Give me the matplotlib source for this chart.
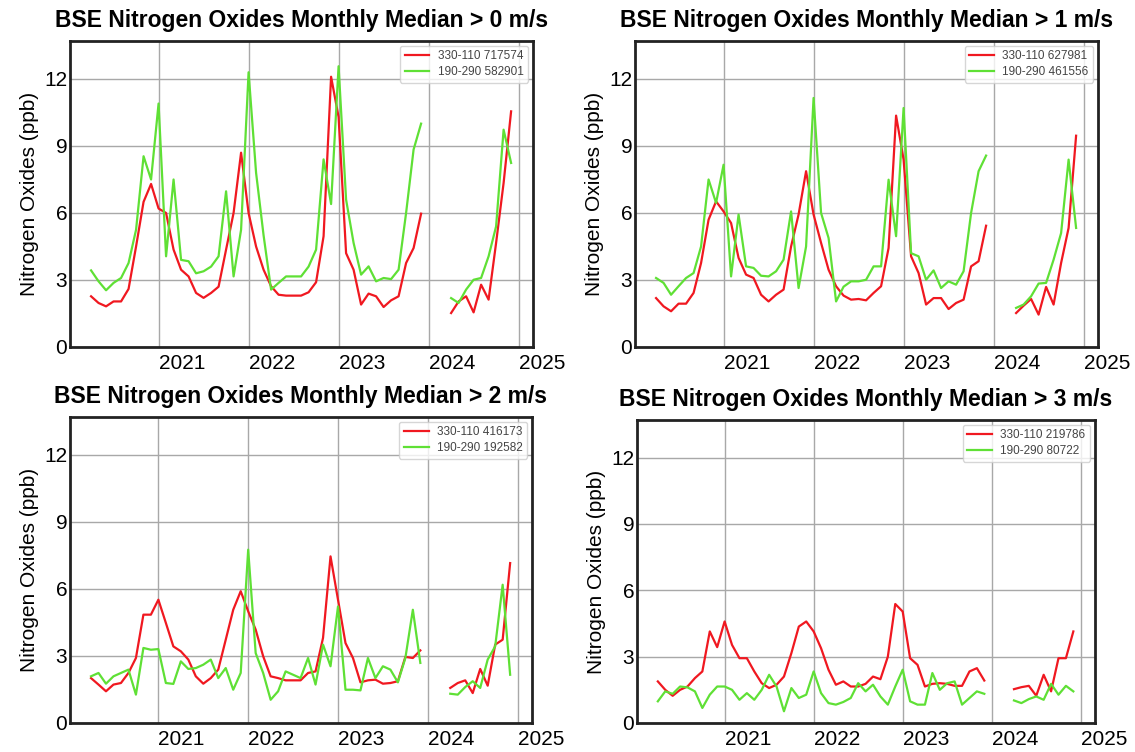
import numpy as np
import pandas as pd
import matplotlib
matplotlib.use("Agg")
import matplotlib.pyplot as plt

plt.rcParams['font.family'] = ['Liberation Sans', 'DejaVu Sans']

# Monthly periods: Apr 2020 .. Dec 2024 (Jan-Mar 2024 missing)
months = pd.date_range('2020-04-01', '2024-12-01', freq='MS')
N = np.nan

titles = ["BSE Nitrogen Oxides Monthly Median > 0 m/s",
          "BSE Nitrogen Oxides Monthly Median > 1 m/s",
          "BSE Nitrogen Oxides Monthly Median > 2 m/s",
          "BSE Nitrogen Oxides Monthly Median > 3 m/s"]

labels_red = ["330-110 717574", "330-110 627981", "330-110 416173", "330-110 219786"]
labels_green = ["190-290 582901", "190-290 461556", "190-290 192582", "190-290 80722"]

red_0 = [2.27, 1.97, 1.82, 2.04, 2.04, 2.6, 4.5, 6.5, 7.3, 6.2, 6.0, 4.36, 3.46, 3.16, 2.42,
         2.2, 2.42, 2.7, 4.36, 6.0, 8.7, 6.0, 4.5, 3.46, 2.72, 2.34, 2.3, 2.3, 2.3,
         2.45, 2.9, 4.96, 12.1, 10.3, 4.2, 3.46, 1.9, 2.39, 2.27, 1.79, 2.09, 2.27, 3.76, 4.43, 5.97,
         N, N, N,
         1.52, 2.04, 2.27, 1.55, 2.79, 2.12, 4.66, 7.34, 10.55]
green_0 = [3.43, 2.94, 2.54, 2.87, 3.09, 3.76, 5.25, 8.54, 7.5, 10.9, 4.06, 7.5, 3.9, 3.84, 3.3,
           3.39, 3.6, 4.06, 6.97, 3.16, 5.25, 12.3, 7.8, 5.0, 2.57, 2.87, 3.16, 3.16, 3.16,
           3.6, 4.36, 8.4, 6.4, 12.57, 6.6, 4.66, 3.24, 3.61, 2.94, 3.09, 3.04, 3.46, 6.0, 8.84, 10.0,
           N, N, N,
           2.19, 1.97, 2.57, 3.01, 3.09, 4.06, 5.4, 9.73, 8.24]

red_1 = [2.19, 1.82, 1.6, 1.94, 1.94, 2.42, 3.76, 5.7, 6.52, 6.07, 5.55, 3.99, 3.24, 3.09, 2.34,
         2.04, 2.34, 2.57, 4.5, 5.93, 7.87, 5.93, 4.66, 3.46, 2.72, 2.3,
         2.12, 2.15, 2.09, 2.42, 2.72, 4.43, 10.36, 8.39, 4.06, 3.31, 1.9, 2.19, 2.19, 1.7, 1.97,
         2.12, 3.61, 3.84, 5.43,
         N, N, N,
         1.52, 1.85, 2.15, 1.45, 2.69, 1.9, 3.76, 5.33, 9.46]
green_1 = [3.09, 2.87, 2.34, 2.72, 3.09, 3.31, 4.5, 7.5, 6.45, 8.16, 3.16, 5.93, 3.61, 3.54, 3.19,
           3.16, 3.39, 3.91, 6.07, 2.64, 4.5, 11.15, 6.0, 4.88, 2.04,
           2.7, 2.94, 2.94, 3.01, 3.61, 3.61, 7.49, 4.96, 10.7, 4.2, 4.06, 3.01, 3.43, 2.64, 2.94,
           2.79, 3.39, 6.0, 7.87, 8.57,
           N, N, N,
           1.75, 1.9, 2.27, 2.84, 2.87, 3.91, 5.1, 8.39, 5.33]

red_2 = [2.01, 1.72, 1.42, 1.72, 1.79, 2.24, 2.91, 4.85, 4.85, 5.52, 4.48, 3.43, 3.21, 2.84, 2.09,
         1.76, 2.01, 2.39, 3.73, 5.07, 5.9, 5.0, 4.18, 2.99, 2.09, 2.01, 1.91, 1.91, 1.91,
         2.24, 2.31, 3.81, 7.46, 5.52, 3.58, 2.91, 1.82, 1.91, 1.94, 1.76, 1.79, 1.87, 2.96, 2.91, 3.25,
         N, N, N,
         1.57, 1.79, 1.91, 1.34, 2.42, 1.67, 3.51, 3.73, 7.16]
green_2 = [2.09, 2.24, 1.76, 2.09, 2.24, 2.39, 1.27, 3.36, 3.28, 3.31, 1.79, 1.75, 2.76, 2.42, 2.46,
           2.61, 2.84, 2.01, 2.46, 1.49, 2.24, 7.76, 3.13, 2.24, 1.04, 1.42, 2.31, 2.16, 2.01,
           2.91, 1.72, 3.51, 2.54, 5.22, 1.49, 1.49, 1.46, 2.91, 2.01, 2.54, 2.39, 1.82, 2.91, 5.07, 2.69,
           N, N, N,
           1.31, 1.27, 1.61, 1.87, 1.57, 2.84, 3.43, 6.19, 2.16]

red_3 = [1.88, 1.5, 1.23, 1.5, 1.65, 2.03, 2.33, 4.14, 3.43, 4.59, 3.53, 2.93, 2.93, 2.33, 1.8,
         1.58, 1.73, 2.1, 3.16, 4.36, 4.59, 4.14, 3.38, 2.41, 1.73,
         1.88, 1.65, 1.65, 1.77, 2.1, 1.98, 3.0, 5.38, 5.04, 2.93, 2.63, 1.65, 1.77, 1.8, 1.77,
         1.68, 1.68, 2.33, 2.48, 1.92,
         N, N, N,
         1.53, 1.62, 1.68, 1.23, 2.18, 1.43, 2.93, 2.93, 4.14]
green_3 = [0.98, 1.43, 1.32, 1.65, 1.61, 1.43, 0.68, 1.28, 1.65, 1.65, 1.5, 1.05, 1.35, 1.05, 1.5,
           2.18, 1.65, 0.53, 1.58, 1.13, 1.28, 2.33, 1.35, 0.9, 0.83,
           0.95, 1.13, 1.8, 1.43, 1.73, 1.2, 0.83, 1.65, 2.41, 0.98, 0.83, 0.83, 2.26, 1.5, 1.8,
           1.88, 0.83, 1.13, 1.43, 1.32,
           N, N, N,
           1.02, 0.9, 1.08, 1.2, 1.05, 1.77, 1.28, 1.68, 1.43]

reds = [red_0, red_1, red_2, red_3]
greens = [green_0, green_1, green_2, green_3]

year_ticks = [2021, 2022, 2023, 2024, 2025]
y_ticks = [0, 3, 6, 9, 12]

RED = '#f01820'
GREEN = '#5fe035'

# decimal-year x coordinates from the month list
xdec = months.year + (months.month - 1) / 12.0

W, H = 1135, 752
fig = plt.figure(figsize=(W / 100, H / 100), dpi=100)

boxes = [(70, 41, 533, 347), (635, 41, 1098, 347),
         (70, 417, 532, 723), (637, 420, 1095, 723)]

for i in range(4):
    l, t, r, b = boxes[i]
    ax = fig.add_axes([l / W, 1 - b / H, (r - l) / W, (b - t) / H])
    ax.plot(xdec, np.array(reds[i], dtype=float), color=RED, lw=1.6, label=labels_red[i])
    ax.plot(xdec, np.array(greens[i], dtype=float), color=GREEN, lw=1.6, label=labels_green[i])
    ax.set_xlim(2020.016, 2025.16)
    ax.set_ylim(0, 13.7)
    ax.set_xticks(year_ticks)
    ax.set_xticklabels([str(y) for y in year_ticks], ha='left')
    ax.set_yticks(y_ticks)
    ax.tick_params(axis='both', length=0, labelsize=15)
    ax.tick_params(axis='x', pad=5)
    ax.tick_params(axis='y', pad=2)
    ax.grid(True, color='#a8a8a8', lw=1.0)
    ax.set_axisbelow(True)
    for s in ax.spines.values():
        s.set_linewidth(2.0)
        s.set_color('#222222')
    ax.set_ylabel("Nitrogen Oxides (ppb)", fontsize=15, labelpad=4)
    ax.set_title(titles[i], fontsize=16.5, fontweight='bold', pad=10)
    leg = ax.legend(loc='upper right', fontsize=8.5, handlelength=2.1,
                    handletextpad=0.7, labelspacing=0.3, borderaxespad=0.4)
    for txt in leg.get_texts():
        txt.set_color('#444444')

fig.savefig('out.png', dpi=100, facecolor='white')
